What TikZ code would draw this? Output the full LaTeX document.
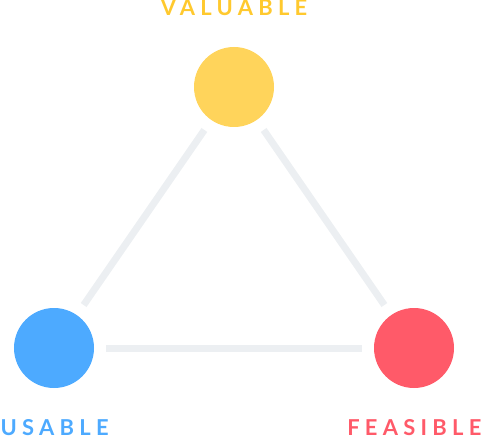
\documentclass[tikz,border=0pt]{standalone}
\usepackage{fontspec}
\setmainfont{Lato}[UprightFont=* Bold, LetterSpace=24]
\definecolor{cyel}{HTML}{FFD45B}
\definecolor{tyel}{HTML}{FFC92E}
\definecolor{cblue}{HTML}{4DAAFF}
\definecolor{cred}{HTML}{FF5A69}
\definecolor{cgray}{HTML}{ECEFF2}
\begin{document}
\begin{tikzpicture}[x=1bp,y=-1bp,
  dot/.style={circle,minimum size=80bp,inner sep=0pt,draw=none},
  edge/.style={cgray,line width=7bp,shorten >=12bp,shorten <=12bp},
  lab/.style={inner sep=0pt,font=\fontsize{22}{22}\selectfont}]
\useasboundingbox (0,0) rectangle (482,438);
\node[dot,fill=cyel] (v) at (234,87) {};
\node[dot,fill=cblue] (u) at (54,348) {};
\node[dot,fill=cred] (f) at (414,348) {};
\draw[edge] (u) -- (v);
\draw[edge] (v) -- (f);
\draw[edge] (u) -- (f);
\node[lab,text=tyel,anchor=base] (tv) at (234,16) {VALUABLE};
\node[lab,text=cblue,anchor=base west] (tu) at (0.5,435) {USABLE};
\node[lab,text=cred,anchor=base east] (tf) at (481.5,435) {FEASIBLE};
\end{tikzpicture}
\end{document}
